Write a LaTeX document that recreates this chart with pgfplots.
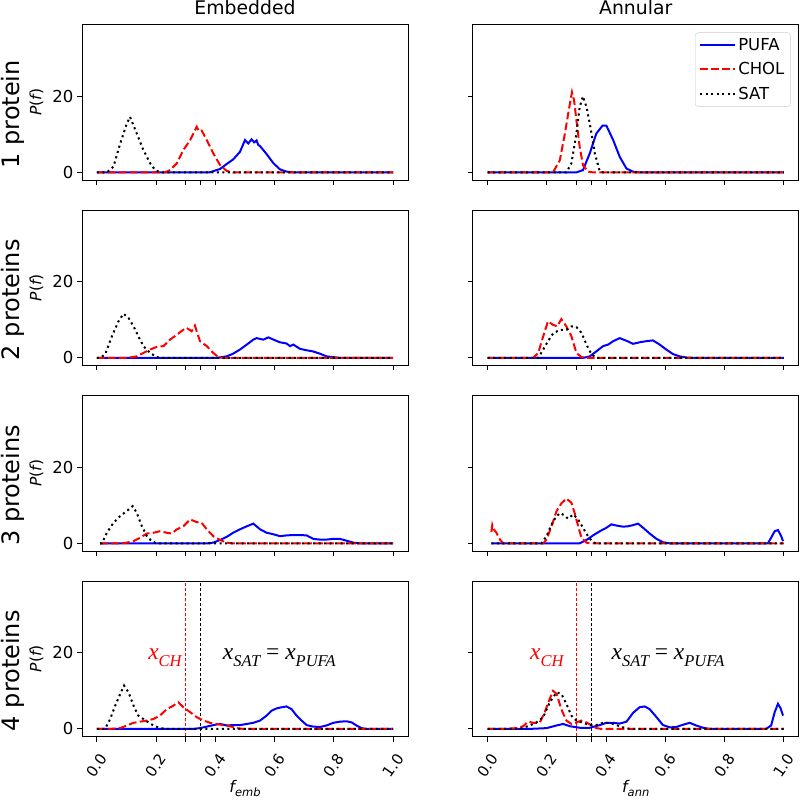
\documentclass[border=0pt]{standalone}
\usepackage{fontspec}
\setmainfont{DejaVu Sans}
\newfontfamily\timesf{Liberation Serif}
\usepackage{pgfplots}
\pgfplotsset{compat=1.18}
\newcommand{\fs}[1]{\fontsize{#1}{#1}\selectfont}
\pgfplotsset{
  panel/.style={
    scale only axis, width=326bp, height=155.5bp, anchor=south west,
    xmin=-0.05, xmax=1.05, ymin=-2, ymax=38.9,
    xtick={0,0.2,0.3,0.35,0.4,0.6,0.8,1}, ytick={0,20},
    tick pos=left, tick align=outside, major tick length=5bp,
    tick style={black, line width=0.9bp},
    axis line style={line width=0.9bp},
    tick label style={font=\fs{16.5bp}},
    xticklabels={{},{},{},{},{},{},{},{}}, yticklabels={{},{}},
    legend image code/.code={\draw[##1] (0bp,0bp) -- (35bp,0bp);},
  },
  botrow/.style={xticklabels={0.0,0.2,{},{},0.4,0.6,0.8,1.0},
    xticklabel style={font=\fs{15bp}, anchor=center, yshift=-24bp, rotate=55}},
  pufa/.style={blue, line width=2bp, solid},
  chol/.style={red, line width=2bp, dash pattern=on 7.7bp off 3.3bp},
  sat/.style={black, line width=2bp, dash pattern=on 2.1bp off 3.4bp},
}
\newcommand{\ann}{%
  \addplot[red, line width=1.4bp, dash pattern=on 3bp off 2bp] coordinates {(0.3,-2) (0.3,38.9)};
  \addplot[black, line width=1.4bp, dash pattern=on 3bp off 2bp] coordinates {(0.35,-2) (0.35,38.9)};
}
\newcommand{\xsub}[1]{x\raisebox{-0.3em}{\fs{16.5bp}#1}}
\begin{document}
\begin{tikzpicture}
\useasboundingbox (0,0) rectangle (800bp,800bp);
% ---------- row 1 ----------
\begin{axis}[panel, at={(82bp,620bp)}, yticklabels={0,20}]
\addplot[pufa] coordinates {(0,0) (0.38,0) (0.416,0.9) (0.438,2.2) (0.46,3.4) (0.483,5.4) (0.5,8.5) (0.511,7.6) (0.522,8.7) (0.531,7.9) (0.539,8.4) (0.545,7.2) (0.551,6.9) (0.573,4.8) (0.596,2.4) (0.618,0.8) (0.64,0.2) (0.663,0) (1,0)};
\addplot[chol] coordinates {(0,0) (0.23,0) (0.247,0.6) (0.27,2.4) (0.292,5.9) (0.315,8.5) (0.326,10.2) (0.337,12) (0.345,10.8) (0.354,11) (0.362,9.8) (0.371,8.5) (0.393,5) (0.416,1.9) (0.438,0.4) (0.46,0) (1,0)};
\addplot[sat] coordinates {(0,0) (0.034,0) (0.056,1.5) (0.079,7.6) (0.101,12.8) (0.112,14.6) (0.135,10.2) (0.157,5.9) (0.18,2.4) (0.197,0.6) (0.215,0) (1,0)};
\end{axis}
\begin{axis}[panel, at={(472.7bp,620bp)},
  legend style={at={(0.975,0.949)}, anchor=north east, draw=black!20, rounded corners=3bp,
    font=\fs{16.5bp}, inner xsep=4bp, inner ysep=4bp, row sep=6.5bp},
  legend cell align=left]
\addplot[pufa] coordinates {(0,0) (0.3,0) (0.322,0.6) (0.345,5) (0.367,10.2) (0.388,12.3) (0.401,12.3) (0.424,8.5) (0.446,4.1) (0.469,1) (0.491,0.2) (0.513,0) (1,0)};
\addlegendentry{PUFA}
\addplot[chol] coordinates {(0,0) (0.221,0) (0.244,3.2) (0.261,10.2) (0.276,17.2) (0.285,21.1) (0.292,19) (0.3,13.7) (0.311,6.7) (0.322,1.9) (0.339,0.2) (0.356,0) (1,0)};
\addlegendentry{CHOL}
\addplot[sat] coordinates {(0,0) (0.266,0) (0.283,2.4) (0.3,10.2) (0.311,17.2) (0.322,20) (0.334,17.2) (0.347,12) (0.362,5) (0.379,0.2) (0.39,0) (1,0)};
\addlegendentry{SAT}
\end{axis}
% ---------- row 2 ----------
\begin{axis}[panel, at={(82bp,434.5bp)}, yticklabels={0,20}]
\addplot[pufa] coordinates {(0,0) (0.404,0) (0.438,0.4) (0.46,1.1) (0.483,2.2) (0.506,3.5) (0.528,4.8) (0.539,5.2) (0.562,4.8) (0.579,5.4) (0.596,4.8) (0.618,4.1) (0.64,3.8) (0.652,3.1) (0.663,3.5) (0.685,2.4) (0.708,2) (0.73,1.7) (0.753,1.1) (0.775,0.4) (0.798,0.2) (0.82,0) (1,0)};
\addplot[chol] coordinates {(0,0) (0.101,0) (0.135,0.4) (0.157,1.3) (0.18,2.2) (0.202,2.9) (0.225,3.1) (0.247,4.8) (0.27,6.1) (0.292,7.4) (0.303,7.9) (0.32,7) (0.331,8.5) (0.348,4.4) (0.371,3.1) (0.393,1.3) (0.41,0.2) (0.427,0) (1,0)};
\addplot[sat] coordinates {(0,0) (0.011,0) (0.028,0.9) (0.051,5.7) (0.073,9.6) (0.09,11.6) (0.107,10.5) (0.124,8.3) (0.14,5.7) (0.157,3.1) (0.18,1.3) (0.202,0.2) (0.225,0) (1,0)};
\end{axis}
\begin{axis}[panel, at={(472.7bp,434.5bp)}]
\addplot[pufa] coordinates {(0,0) (0.322,0) (0.345,0.4) (0.367,1.7) (0.39,3.1) (0.407,3.5) (0.424,4.4) (0.446,5.2) (0.469,4.5) (0.491,3.7) (0.513,4.1) (0.536,4.4) (0.558,4.6) (0.581,3.5) (0.603,2.2) (0.626,1) (0.648,0.4) (0.671,0.1) (0.693,0) (1,0)};
\addplot[chol] coordinates {(0,0) (0.154,0) (0.171,1.3) (0.188,5.7) (0.204,9.6) (0.221,8.7) (0.235,8.3) (0.249,10.2) (0.266,8.3) (0.283,5.7) (0.3,1.3) (0.317,0.2) (0.334,0) (1,0)};
\addplot[sat] coordinates {(0,0) (0.171,0) (0.188,2.2) (0.204,4.4) (0.221,6.4) (0.244,7.4) (0.266,7.4) (0.283,8.3) (0.3,8.1) (0.317,6.6) (0.334,3.5) (0.351,0.9) (0.367,0) (1,0)};
\end{axis}
% ---------- row 3 ----------
\begin{axis}[panel, at={(82bp,249bp)}, yticklabels={0,20}]
\addplot[pufa] coordinates {(0.011,0) (0.371,0) (0.393,0.2) (0.416,0.9) (0.438,1.7) (0.46,2.8) (0.483,3.7) (0.506,4.5) (0.528,5.2) (0.551,3.7) (0.573,2.8) (0.596,2.4) (0.618,1.9) (0.64,2.1) (0.663,2.2) (0.685,2.2) (0.708,2.1) (0.73,1.2) (0.753,1) (0.775,1) (0.798,1.2) (0.82,1.2) (0.843,0.7) (0.865,0.2) (0.888,0) (1,0)};
\addplot[chol] coordinates {(0.011,0) (0.08,0) (0.101,0.2) (0.124,0.6) (0.146,1.5) (0.169,2.6) (0.191,2.8) (0.213,3.2) (0.236,2.8) (0.253,2.6) (0.27,3.7) (0.292,4.5) (0.315,6.3) (0.337,5.6) (0.354,5.4) (0.371,3.7) (0.393,1.9) (0.416,0.9) (0.438,0.2) (0.46,0) (1,0)};
\addplot[sat] coordinates {(0.011,0) (0.017,0) (0.034,2.8) (0.056,5.4) (0.079,7.2) (0.101,8.5) (0.121,9.8) (0.135,8) (0.152,4.5) (0.169,1.9) (0.185,0.6) (0.202,0) (1,0)};
\end{axis}
\begin{axis}[panel, at={(472.7bp,249bp)}]
\addplot[pufa] coordinates {(0.013,0) (0.311,0) (0.334,0.9) (0.356,2.1) (0.379,3.2) (0.401,4.1) (0.418,5) (0.435,4.7) (0.457,4.4) (0.474,4.5) (0.491,4.8) (0.508,5.2) (0.525,4.1) (0.547,2.6) (0.57,1.2) (0.592,0.3) (0.615,0) (0.946,0) (0.957,1.5) (0.969,3.2) (0.98,3.5) (0.991,1.9) (0.997,0.6)};
\addplot[chol] coordinates {(0.013,3.0) (0.016,4.8) (0.019,4.0) (0.022,3.6) (0.03,2.8) (0.042,1) (0.053,0) (0.188,0) (0.199,1) (0.216,4.5) (0.233,8.5) (0.249,10.5) (0.266,11.8) (0.283,10.7) (0.294,8) (0.306,4.5) (0.317,1.5) (0.334,0.2) (0.345,0) (1,0)};
\addplot[sat] coordinates {(0.013,0) (0.182,0) (0.199,1.9) (0.216,5) (0.233,7.2) (0.247,8) (0.261,7.2) (0.272,6.5) (0.289,7.6) (0.306,6.3) (0.322,4.1) (0.339,1.9) (0.356,0.3) (0.367,0) (1,0)};
\end{axis}
% ---------- row 4 ----------
\begin{axis}[panel, botrow, at={(82bp,63.5bp)}, yticklabels={0,20}]
\ann
\addplot[pufa] coordinates {(0,0) (0.326,0) (0.348,0.2) (0.371,0.6) (0.393,1) (0.416,1.3) (0.438,0.9) (0.46,1) (0.483,1) (0.506,1.3) (0.528,1.6) (0.551,2.2) (0.573,3.5) (0.59,4.8) (0.607,5.4) (0.624,5.7) (0.64,5.9) (0.657,5.2) (0.674,3.5) (0.691,2.2) (0.708,1) (0.73,0.6) (0.753,0.5) (0.775,0.9) (0.798,1.6) (0.82,1.9) (0.843,2) (0.86,1.7) (0.876,0.9) (0.893,0.2) (0.91,0) (1,0)};
\addplot[chol] coordinates {(0,0) (0.045,0) (0.079,0.2) (0.101,0.9) (0.124,1.6) (0.146,1.9) (0.169,2.2) (0.191,2.6) (0.213,3.5) (0.236,5.2) (0.258,6.1) (0.275,7) (0.292,5.7) (0.315,4.4) (0.337,3.1) (0.36,2.2) (0.382,1.6) (0.404,1.3) (0.427,1) (0.449,0.7) (0.472,0.2) (0.494,0) (1,0)};
\addplot[sat] coordinates {(0,0) (0.028,0) (0.045,2.6) (0.062,6.1) (0.079,9.2) (0.092,11.4) (0.107,9.6) (0.124,6.1) (0.14,3.5) (0.157,2.6) (0.174,1.7) (0.191,0.9) (0.213,0.2) (0.236,0) (1,0)};
\node[anchor=base west, inner sep=0pt, red, font=\timesf\itshape\fs{23.5bp}] at (axis cs:0.173,18.3) {\xsub{CH}};
\node[anchor=base west, inner sep=0pt, black, font=\timesf\itshape\fs{23.5bp}] at (axis cs:0.425,18.3) {\xsub{SAT}\ {\upshape =}\ \xsub{PUFA}};
\end{axis}
\begin{axis}[panel, botrow, at={(472.7bp,63.5bp)}]
\ann
\addplot[pufa] coordinates {(0,0) (0.143,0) (0.199,0.2) (0.233,0.9) (0.255,1.3) (0.278,0.7) (0.311,0.3) (0.345,0.3) (0.379,1) (0.401,1.6) (0.424,1.6) (0.446,1.4) (0.469,1.9) (0.491,4.2) (0.513,5.7) (0.53,5.9) (0.547,5.2) (0.57,3.1) (0.592,1) (0.615,0.4) (0.637,0.5) (0.66,1.1) (0.682,1.6) (0.704,0.9) (0.727,0.3) (0.749,0) (0.94,0) (0.957,0.9) (0.969,4.4) (0.98,6.6) (0.989,5.4) (0.997,3.5)};
\addplot[chol] coordinates {(0,0) (0.053,0) (0.098,0.2) (0.12,0.7) (0.137,1.9) (0.154,1.6) (0.176,1.6) (0.193,4.4) (0.21,7.9) (0.221,10) (0.233,9.2) (0.249,5.2) (0.266,2.2) (0.283,1.3) (0.3,1.7) (0.317,2.2) (0.334,1.7) (0.351,0.9) (0.367,0.2) (0.384,0) (1,0)};
\addplot[sat] coordinates {(0,0) (0.109,0) (0.143,0.9) (0.165,1.7) (0.188,3.1) (0.21,7) (0.233,9.6) (0.249,9.2) (0.266,6.6) (0.283,3.5) (0.3,2.2) (0.322,1.6) (0.345,1) (0.367,1) (0.39,1.6) (0.412,1.6) (0.435,1) (0.457,0.4) (0.48,0) (1,0)};
\node[anchor=base west, inner sep=0pt, red, font=\timesf\itshape\fs{23.5bp}] at (axis cs:0.143,18.3) {\xsub{CH}};
\node[anchor=base west, inner sep=0pt, black, font=\timesf\itshape\fs{23.5bp}] at (axis cs:0.418,18.3) {\xsub{SAT}\ {\upshape =}\ \xsub{PUFA}};
\end{axis}
% ---------- titles and labels ----------
\node[anchor=base, font=\fs{18.8bp}] at (245bp,785bp) {Embedded};
\node[anchor=base, font=\fs{18.8bp}] at (635.7bp,785bp) {Annular};
\foreach \yb/\lab in {620/1 protein, 434.5/2 proteins, 249/3 proteins, 63.5/4 proteins} {
  \pgfmathsetmacro{\ya}{\yb+65.75}
  \pgfmathsetmacro{\yp}{\yb+77.75}
  \node[rotate=90, font=\fs{24bp}] at (12.5bp,\ya bp) {\lab};
  \node[rotate=90, font=\fs{15.5bp}] at (36.5bp,\yp bp) {\itshape P\upshape(\itshape f\upshape)};
}
\node[anchor=base, font=\fs{16bp}] at (245bp,8bp) {\itshape f\raisebox{-0.25em}{\fs{11.5bp}emb}};
\node[anchor=base, font=\fs{16bp}] at (635.7bp,8bp) {\itshape f\raisebox{-0.25em}{\fs{11.5bp}ann}};
\end{tikzpicture}
\end{document}
